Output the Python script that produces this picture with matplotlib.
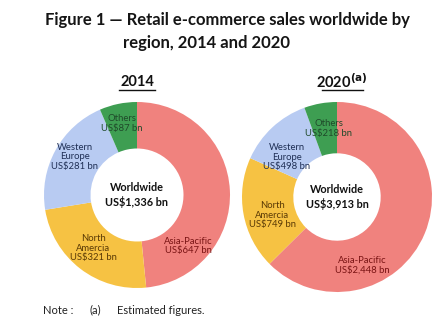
import matplotlib
matplotlib.use("Agg")
import matplotlib.pyplot as plt

# Retail e-commerce sales by region (US$ bn)
regions = ["Asia-Pacific", "North\nAmercia", "Western\nEurope", "Others"]
sales_2014 = [647, 321, 281, 87]
sales_2020 = [2448, 749, 498, 218]
total_2014 = "1,336"
total_2020 = "3,913"

wedge_colors = ["#F0827E", "#F6C243", "#B8CBF2", "#3E9E52"]
text_colors = ["#7A1414", "#5A3A05", "#1F2F55", "#1F4A2A"]

plt.rcParams["font.family"] = ["Lato", "DejaVu Sans"]

W, H = 439, 325
fig = plt.figure(figsize=(W / 100, H / 100), dpi=100)


def make_axes(cx, cy, r):
    return fig.add_axes([(cx - r) / W, (H - cy - r) / H, 2 * r / W, 2 * r / H])


def draw_donut(ax, values, hole, total, label_pos):
    ax.pie(values, colors=wedge_colors, startangle=90, counterclock=False,
           radius=1.0, wedgeprops=dict(width=1.0 - hole, linewidth=0))
    ax.set_xlim(-1, 1)
    ax.set_ylim(-1, 1)
    ax.set_aspect("equal")
    ax.axis("off")
    for name, val, (x, y), tc in zip(regions, values, label_pos, text_colors):
        ax.text(x, y, f"{name}\nUS${val:,} bn", ha="center", va="center",
                fontsize=6.8, color=tc, linespacing=1.1)
    ax.text(0, 0, f"Worldwide\nUS${total} bn", ha="center", va="center",
            fontsize=7.8, fontweight="bold", color="#111111", linespacing=1.35)


ax1 = make_axes(137, 195, 93)
draw_donut(ax1, sales_2014, 0.50, total_2014,
           [(0.55, -0.55), (-0.47, -0.57), (-0.67, 0.41), (-0.16, 0.77)])

ax2 = make_axes(337, 197, 95)
draw_donut(ax2, sales_2020, 0.46, total_2020,
           [(0.27, -0.72), (-0.68, -0.19), (-0.53, 0.42), (-0.09, 0.72)])

fig.text(227 / W, 1 - 20 / H, "Figure 1 \u2014 Retail e-commerce sales worldwide by",
         ha="center", va="center", fontsize=12, fontweight="bold", color="#151515")
fig.text(207 / W, 1 - 43 / H, "region, 2014 and 2020",
         ha="center", va="center", fontsize=12, fontweight="bold", color="#151515")

fig.text(137 / W, 1 - 82 / H, "2014", ha="center", va="center", fontsize=10.5,
         fontweight="bold", color="#111111")
fig.add_artist(plt.Line2D([119 / W, 155 / W], [1 - 90 / H, 1 - 90 / H],
                          color="#111111", linewidth=1.0))
fig.text(342 / W, 1 - 82 / H, "2020$^{\\mathbf{(a)}}$", ha="center", va="center",
         fontsize=10.5, fontweight="bold", color="#111111")
fig.add_artist(plt.Line2D([322 / W, 363 / W], [1 - 90 / H, 1 - 90 / H],
                          color="#111111", linewidth=1.0))

fig.text(43 / W, 1 - 310 / H, "Note :", ha="left", va="center", fontsize=8, color="#222222")
fig.text(90 / W, 1 - 310 / H, "(a)", ha="left", va="center", fontsize=8, color="#222222")
fig.text(117 / W, 1 - 310 / H, "Estimated figures.", ha="left", va="center",
         fontsize=8, color="#222222")

fig.savefig("out.png", dpi=100, facecolor="white")
